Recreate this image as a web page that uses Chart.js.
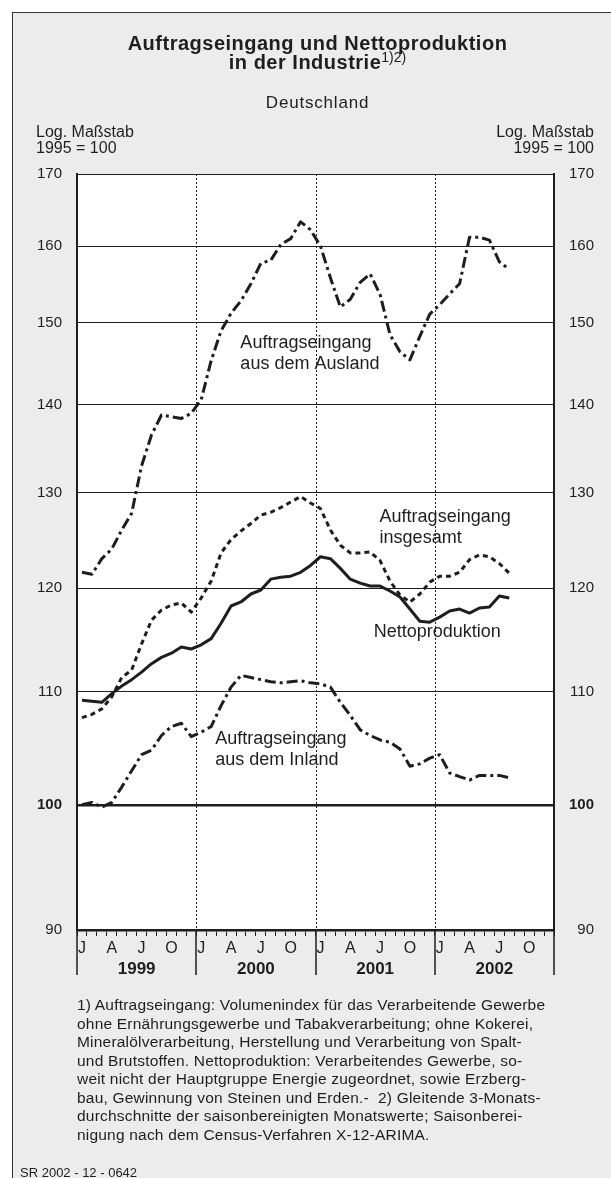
<!DOCTYPE html>
<html lang="de">
<head>
<meta charset="utf-8">
<title>Auftragseingang und Nettoproduktion in der Industrie</title>
<script src="https://cdn.jsdelivr.net/npm/chart.js@4.4.1/dist/chart.umd.min.js"></script>
<style>
  html, body { margin: 0; padding: 0; background: #fff; }
  body { width: 611px; height: 1178px; position: relative; overflow: hidden;
         font-family: "Liberation Sans", Arial, Helvetica, sans-serif; color: #1e1e1e; }
  #frame { position: absolute; left: 12px; top: 12px; width: 700px; height: 1300px;
           background: #ececec; border-left: 1px solid #333; border-top: 1px solid #333; }
  #chart { position: absolute; left: 0; top: 0; }
  .t { position: absolute; white-space: nowrap; }
  .title { left: 12px; width: 611px; text-align: center; font-weight: bold; font-size: 20px;
           line-height: 20px; letter-spacing: 0.5px; }
  .title sup { font-size: 14px; font-weight: normal; letter-spacing: 0; vertical-align: 0; position: relative; top: -7px; }
  .sub { left: 12px; width: 611px; text-align: center; font-size: 17px; line-height: 17px; letter-spacing: 0.8px; }
  .scale { font-size: 16px; line-height: 16px; }
  .note { left: 77px; top: 996px; font-size: 15.5px; line-height: 18.5px; letter-spacing: 0.2px; }
  .sr { left: 20px; top: 1166px; font-size: 13px; line-height: 13px; }
</style>
</head>
<body>
<div id="frame"></div>
<canvas id="chart" width="611" height="1178"></canvas>

<div class="t title" style="top:33px">Auftragseingang und Nettoproduktion</div>
<div class="t title" style="top:52px">in der Industrie<sup>1)2)</sup></div>
<div class="t sub" style="top:94px">Deutschland</div>
<div class="t scale" style="left:36px; top:124px">Log. Maßstab<br>1995 = 100</div>
<div class="t scale" style="right:17px; top:124px; text-align:right">Log. Maßstab<br>1995 = 100</div>
<div class="t note">1) Auftragseingang: Volumenindex für das Verarbeitende Gewerbe<br>ohne Ernährungsgewerbe und Tabakverarbeitung; ohne Kokerei,<br>Mineralölverarbeitung, Herstellung und Verarbeitung von Spalt-<br>und Brutstoffen. Nettoproduktion: Verarbeitendes Gewerbe, so-<br>weit nicht der Hauptgruppe Energie zugeordnet, sowie Erzberg-<br>bau, Gewinnung von Steinen und Erden.-&nbsp; 2) Gleitende 3-Monats-<br>durchschnitte der saisonbereinigten Monatswerte; Saisonberei-<br>nigung nach dem Census-Verfahren X-12-ARIMA.</div>
<div class="t sr">SR 2002 - 12 - 0642</div>

<script>
// Monate Jan 1999 - Dez 2002, Werte Jan 1999 - Aug 2002 (3-Monatsdurchschnitte)
const years = ['1999', '2000', '2001', '2002'];
const monthNames = ['J', 'F', 'M', 'A', 'M', 'J', 'J', 'A', 'S', 'O', 'N', 'D'];
const shownMonths = ['J', '', '', 'A', '', '', 'J', '', '', 'O', '', ''];
const yTicks = [90, 100, 110, 120, 130, 140, 150, 160, 170];

const ausland = [121.6, 121.4, 123.0, 124.0, 126.0, 127.8, 133.0, 136.5, 138.8, 138.6, 138.4, 139.0,
                 140.6, 145.3, 149.0, 151.2, 152.8, 155.0, 157.7, 158.1, 160.2, 161.0, 163.3, 162.2,
                 160.0, 155.8, 152.0, 153.0, 155.2, 156.3, 153.6, 148.5, 146.4, 145.4, 148.3, 151.1,
                 152.3, 153.7, 155.0, 161.2, 161.2, 160.8, 157.9, 156.9];
const insgesamt = [107.6, 107.9, 108.4, 109.5, 111.3, 112.0, 114.5, 116.8, 117.8, 118.3, 118.5, 117.6,
                   119.0, 120.7, 123.6, 125.0, 125.9, 126.7, 127.6, 127.9, 128.4, 129.0, 129.6, 128.9,
                   128.3, 126.0, 124.4, 123.6, 123.6, 123.7, 122.8, 120.7, 119.3, 118.6, 119.4, 120.6,
                   121.2, 121.2, 121.6, 122.9, 123.4, 123.2, 122.5, 121.5];
const netto = [109.2, 109.1, 109.0, 109.8, 110.5, 111.1, 111.8, 112.6, 113.2, 113.6, 114.2, 114.0,
               114.4, 115.0, 116.5, 118.2, 118.6, 119.4, 119.8, 120.9, 121.1, 121.2, 121.6, 122.3,
               123.2, 123.0, 122.0, 120.9, 120.5, 120.2, 120.2, 119.7, 119.1, 117.9, 116.7, 116.6,
               117.1, 117.7, 117.9, 117.5, 118.0, 118.1, 119.2, 119.0];
const inland = [100.0, 100.2, 99.8, 100.2, 101.5, 102.9, 104.3, 104.7, 106.0, 106.8, 107.1, 105.9,
                106.3, 106.8, 108.7, 110.4, 111.5, 111.3, 111.1, 110.9, 110.8, 110.9, 111.0, 110.8,
                110.7, 110.4, 109.0, 107.8, 106.5, 106.0, 105.6, 105.4, 104.8, 103.3, 103.5, 104.0,
                104.3, 102.7, 102.4, 102.1, 102.5, 102.5, 102.5, 102.3];

// Beschriftungen der Kurven: Monatsindex / Wert der ersten Zeile
const seriesLabels = [
    { lines: ['Auftragseingang', 'aus dem Ausland'], month: 15.94, value: 147.5 },
    { lines: ['Auftragseingang', 'insgesamt'], month: 29.95, value: 127.4 },
    { lines: ['Nettoproduktion'], month: 29.35, value: 115.6 },
    { lines: ['Auftragseingang', 'aus dem Inland'], month: 13.42, value: 105.7 }
];

const labels = [];
years.forEach(y => monthNames.forEach(m => labels.push(m + ' ' + y)));

const FONT = "'Liberation Sans', Arial, Helvetica, sans-serif";
const ink = '#1e1e1e';
const dashDot = [11, 4, 3, 4];

const deco = {
    id: 'deco',
    beforeDraw(chart) {
        const { ctx, chartArea: a } = chart;
        ctx.save();
        ctx.fillStyle = '#fff';
        ctx.fillRect(a.left, a.top, a.right - a.left, a.bottom - a.top);
        ctx.restore();
    },
    beforeDatasetsDraw(chart) {
        // gepunktete Jahrestrenner
        const { ctx, chartArea: a, scales: { x } } = chart;
        ctx.save();
        ctx.strokeStyle = ink;
        ctx.lineWidth = 1;
        ctx.setLineDash([2, 2]);
        for (let k = 1; k < years.length; k++) {
            const px = Math.round(x.getPixelForValue(k * 12 - 0.5)) + 0.5;
            ctx.beginPath();
            ctx.moveTo(px, a.top);
            ctx.lineTo(px, a.bottom);
            ctx.stroke();
        }
        ctx.restore();
    },
    afterDraw(chart) {
        const { ctx, chartArea: a, scales: { x, y } } = chart;
        ctx.save();
        // lange Striche an den Jahresgrenzen
        ctx.strokeStyle = ink;
        ctx.lineWidth = 1.5;
        for (let k = 0; k <= years.length; k++) {
            const px = Math.round(x.getPixelForValue(k * 12 - 0.5));
            ctx.beginPath();
            ctx.moveTo(px, a.bottom);
            ctx.lineTo(px, a.bottom + 45);
            ctx.stroke();
        }
        // Jahreszahlen
        ctx.fillStyle = ink;
        ctx.textAlign = 'center';
        ctx.textBaseline = 'middle';
        ctx.font = 'bold 17px ' + FONT;
        years.forEach((yr, k) => {
            ctx.fillText(yr, x.getPixelForValue(k * 12 + 5.5), a.bottom + 39);
        });
        // Kurvenbeschriftungen
        ctx.textAlign = 'left';
        ctx.font = '18px ' + FONT;
        seriesLabels.forEach(l => {
            const px = x.getPixelForValue(l.month);
            const py = y.getPixelForValue(l.value);
            l.lines.forEach((t, i) => ctx.fillText(t, px, py + i * 21.5));
        });
        ctx.restore();
    }
};

const tickFont = c => ({ family: FONT, size: 15, weight: c.tick && c.tick.value === 100 ? 'bold' : 'normal' });

new Chart(document.getElementById('chart'), {
    type: 'line',
    data: {
        labels: labels,
        datasets: [
            { label: 'Auftragseingang aus dem Ausland', data: ausland, borderDash: dashDot },
            { label: 'Auftragseingang insgesamt', data: insgesamt, borderDash: [5, 4] },
            { label: 'Nettoproduktion', data: netto },
            { label: 'Auftragseingang aus dem Inland', data: inland, borderDash: dashDot }
        ]
    },
    options: {
        responsive: false,
        animation: false,
        events: [],
        layout: { padding: { top: 174, right: 17, bottom: 200, left: 0 } },
        elements: {
            point: { radius: 0 },
            line: { borderColor: ink, borderWidth: 3, tension: 0, fill: false, borderJoinStyle: 'round' }
        },
        plugins: { legend: { display: false }, tooltip: { enabled: false } },
        scales: {
            x: {
                type: 'category',
                offset: true,
                afterFit: s => { s.height = 48; },
                grid: { display: true, offset: true, drawOnChartArea: false, drawTicks: true,
                        tickLength: 6, color: ink, lineWidth: 1 },
                border: { display: true, color: ink, width: 2.5 },
                ticks: {
                    autoSkip: false, maxRotation: 0, minRotation: 0, padding: 3, color: ink,
                    font: { family: FONT, size: 16 },
                    callback: (v, i) => shownMonths[i % 12]
                }
            },
            y: {
                type: 'logarithmic',
                position: 'left',
                min: 90, max: 170,
                afterBuildTicks: s => { s.ticks = yTicks.map(v => ({ value: v })); },
                afterFit: s => { s.width = 77; },
                grid: { color: ink, drawTicks: false,
                        lineWidth: c => c.tick && c.tick.value === 100 ? 2.5 : 1 },
                border: { display: true, color: ink, width: 2 },
                ticks: { padding: 15, color: ink, font: tickFont, callback: v => String(v) }
            },
            y2: {
                type: 'logarithmic',
                position: 'right',
                display: true,
                min: 90, max: 170,
                afterBuildTicks: s => { s.ticks = yTicks.map(v => ({ value: v })); },
                afterFit: s => { s.width = 40; },
                grid: { display: false, drawTicks: false },
                border: { display: true, color: ink, width: 2 },
                ticks: { padding: 0, crossAlign: 'far', color: ink, font: tickFont, callback: v => String(v) }
            }
        }
    },
    plugins: [deco]
});
</script>
</body>
</html>
